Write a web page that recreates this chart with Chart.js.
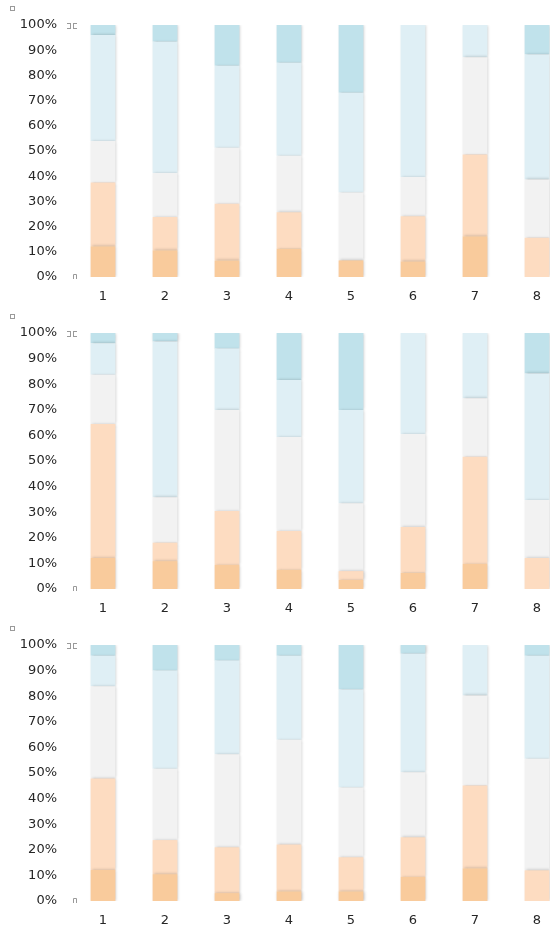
<!DOCTYPE html>
<html>
<head>
<meta charset="utf-8">
<script src="https://cdn.jsdelivr.net/npm/chart.js@4.4.1/dist/chart.umd.min.js"></script>
<style>
  html, body { margin: 0; padding: 0; background: #fff; overflow: hidden; width: 550px; height: 926px; }
  .box { position: absolute; left: 0; width: 568px; }
  canvas { display: block; }
</style>
</head>
<body>
<div class="box" style="top:0px;height:310px"><canvas id="c1" width="568" height="310"></canvas></div>
<div class="box" style="top:308px;height:314px"><canvas id="c2" width="568" height="314"></canvas></div>
<div class="box" style="top:620px;height:314px"><canvas id="c3" width="568" height="314"></canvas></div>
<script>
// ---- данные (проценты по сегментам) ----
const categories = ['1', '2', '3', '4', '5', '6', '7', '8'];
const yTicks = [0, 10, 20, 30, 40, 50, 60, 70, 80, 90, 100];

// верхний график
const top1DarkOrange  = [12.2, 10.6, 6.6, 11.3, 6.6, 6.2, 16.2, 0];
const top1LightOrange = [25.3, 13.2, 22.5, 14.4, 0, 17.9, 32.4, 15.6];
const top1Gray        = [16.5, 17.5, 22.2, 22.4, 26.9, 15.6, 38.6, 23.1];
const top1LightBlue   = [42.0, 52.1, 32.5, 36.9, 39.6, 60.3, 12.8, 49.6];
const top1DarkBlue    = [4.0, 6.6, 16.2, 15.0, 26.9, 0, 0, 11.7];

// средний график
const mid2DarkOrange  = [12.1, 10.9, 9.4, 7.6, 3.6, 6.4, 9.8, 0];
const mid2LightOrange = [52.4, 7.2, 21.1, 15.1, 3.4, 17.8, 41.9, 12.1];
const mid2Gray        = [19.2, 17.7, 39.4, 36.7, 26.5, 36.3, 22.8, 22.7];
const mid2LightBlue   = [12.3, 60.9, 24.0, 22.2, 36.4, 39.5, 25.5, 49.4];
const mid2DarkBlue    = [4.0, 3.3, 6.1, 18.4, 30.1, 0, 0, 15.8];

// нижний график
const bot3DarkOrange  = [12.1, 10.5, 3.1, 3.8, 3.8, 9.4, 12.8, 0];
const bot3LightOrange = [35.8, 13.3, 17.9, 18.3, 13.3, 15.5, 32.3, 12.0];
const bot3Gray        = [36.0, 27.9, 36.3, 40.9, 27.2, 25.4, 35.2, 43.6];
const bot3LightBlue   = [11.9, 38.3, 36.6, 32.8, 38.3, 46.3, 19.7, 40.2];
const bot3DarkBlue    = [4.2, 10.0, 6.1, 4.2, 17.4, 3.4, 0, 4.2];

const colors = ['#F9CB9C', '#FDDCC1', '#F2F2F2', '#DFEFF5', '#C0E2EB'];

// лёгкая тень у столбиков, как в оригинале
const shadowPlugin = {
    id: 'barShadow',
    beforeDatasetsDraw(chart) {
        const ctx = chart.ctx;
        ctx.save();
        ctx.shadowColor = 'rgba(0,0,0,0.25)';
        ctx.shadowBlur = 3;
        ctx.shadowOffsetX = 1;
        ctx.shadowOffsetY = 0;
    },
    afterDatasetsDraw(chart) {
        chart.ctx.restore();
    }
};

// маленькие маркеры выделения (квадратик слева сверху и скобки у оси)
const handlesPlugin = {
    id: 'handles',
    afterDraw(chart) {
        const ctx = chart.ctx;
        const a = chart.chartArea;
        ctx.save();
        ctx.strokeStyle = '#9a9a9a';
        ctx.lineWidth = 1;
        ctx.strokeRect(10.5, a.top - 18.5, 4, 4);
        // "⌶" у 100%
        const y = a.top + 1;
        ctx.beginPath();
        ctx.moveTo(67, y - 2.5); ctx.lineTo(70, y - 2.5);
        ctx.moveTo(67, y + 2.5); ctx.lineTo(70, y + 2.5);
        ctx.moveTo(70.5, y - 3); ctx.lineTo(70.5, y + 3);
        ctx.moveTo(73.5, y - 3); ctx.lineTo(73.5, y + 3);
        ctx.moveTo(74, y - 2.5); ctx.lineTo(77, y - 2.5);
        ctx.moveTo(74, y + 2.5); ctx.lineTo(77, y + 2.5);
        ctx.stroke();
        // "∩" у 0%
        const b = a.bottom;
        ctx.beginPath();
        ctx.moveTo(73.5, b + 2); ctx.lineTo(73.5, b - 2.5); ctx.lineTo(76.5, b - 2.5); ctx.lineTo(76.5, b + 2);
        ctx.stroke();
        ctx.restore();
    }
};

function makeChart(id, series) {
    const ctx = document.getElementById(id);
    return new Chart(ctx, {
        type: 'bar',
        data: {
            labels: categories,
            datasets: series.map((s, i) => ({
                data: s,
                backgroundColor: colors[i],
                borderWidth: 0,
                categoryPercentage: 1,
                barPercentage: 0.4
            }))
        },
        options: {
            responsive: false,
            animation: false,
            devicePixelRatio: 1,
            layout: { padding: { top: 25, right: 0, left: 0, bottom: 0 } },
            plugins: { legend: { display: false }, tooltip: { enabled: false } },
            scales: {
                x: {
                    stacked: true,
                    grid: { display: false, drawTicks: false },
                    border: { display: false },
                    ticks: { color: '#262626', padding: 12, font: { family: 'DejaVu Sans', size: 13 } },
                    afterFit: (scale) => { scale.height = 33; }
                },
                y: {
                    stacked: true,
                    min: 0,
                    max: 100,
                    afterBuildTicks: (scale) => { scale.ticks = yTicks.map(v => ({ value: v })); },
                    grid: { display: false, drawTicks: false },
                    border: { display: false },
                    ticks: {
                        color: '#262626',
                        padding: 15,
                        font: { family: 'DejaVu Sans', size: 13 },
                        callback: (v) => v + '%'
                    },
                    afterFit: (scale) => { scale.width = 72; }
                }
            }
        },
        plugins: [shadowPlugin, handlesPlugin]
    });
}

makeChart('c1', [top1DarkOrange, top1LightOrange, top1Gray, top1LightBlue, top1DarkBlue]);
makeChart('c2', [mid2DarkOrange, mid2LightOrange, mid2Gray, mid2LightBlue, mid2DarkBlue]);
makeChart('c3', [bot3DarkOrange, bot3LightOrange, bot3Gray, bot3LightBlue, bot3DarkBlue]);
</script>
</body>
</html>
